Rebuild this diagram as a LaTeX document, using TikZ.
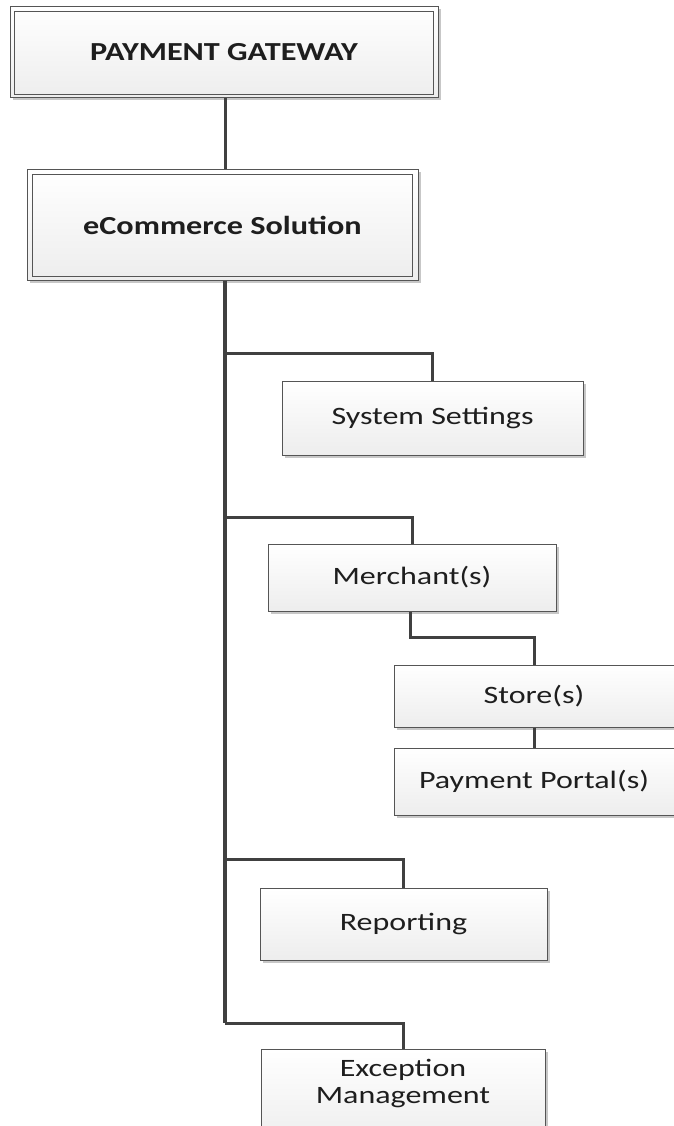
\documentclass[tikz,border=0pt]{standalone}
\usepackage{fontspec}
\usepackage{graphicx}
\setmainfont{Carlito}
\usetikzlibrary{shadows,calc}
\definecolor{edge}{HTML}{555555}
\definecolor{conncol}{HTML}{404040}
\definecolor{txt}{HTML}{1E1E1E}
\newcommand{\wide}[1]{\scalebox{1.28}[1]{#1}}
\newcommand{\widebf}[1]{\scalebox{1.24}[1]{#1}}
\tikzset{
  box/.style={draw=edge, line width=1pt, top color=white, bottom color=gray!14,
    drop shadow={shadow xshift=2.5pt, shadow yshift=-2.5pt, fill=black, opacity=.22},
    inner sep=0pt, text=txt, font=\fontsize{25}{27}\selectfont, align=center},
  bigbox/.style={box, font=\fontsize{26}{30}\selectfont\bfseries},
  innerline/.style={draw=edge, line width=1pt},
  conn/.style={draw=conncol, line width=3pt},
  trunk/.style={draw=conncol, line width=3.6pt}
}
\begin{document}
\begin{tikzpicture}[x=1pt,y=-1pt]
\useasboundingbox (0,0) rectangle (673,1126);
\coordinate (t1) at (225,353);
\coordinate (t2) at (225,517);
\coordinate (t3) at (225,859);
\coordinate (t4) at (225,1023);
% nodes
\node[bigbox, minimum width=428pt, minimum height=91pt] (pg) at (224,52.5) {\widebf{PAYMENT GATEWAY}};
\draw[innerline] ([shift={(5pt,-5pt)}]pg.north west) rectangle ([shift={(-5pt,4pt)}]pg.south east);
\node[bigbox, minimum width=391pt, minimum height=110pt] (ec) at (222.5,225) {\widebf{eCommerce Solution}};
\draw[innerline] ([shift={(6pt,-5pt)}]ec.north west) rectangle ([shift={(-6pt,4pt)}]ec.south east);
\node[box, minimum width=301pt, minimum height=74pt] (ss) at (432.5,418) {\wide{System Settings}};
\node[box, minimum width=288pt, minimum height=67pt] (mer) at (412,577.5) {\wide{Merchant(s)}};
\node[box, minimum width=280pt, minimum height=62pt] (st) at (534,696) {\wide{Store(s)}};
\node[box, minimum width=280pt, minimum height=67pt] (pp) at (534,781.5) {\wide{Payment Portal(s)}};
\node[box, minimum width=287pt, minimum height=72pt] (rep) at (403.5,924) {\wide{Reporting}};
\node[box, minimum width=284pt, anchor=north, text height=54pt, text depth=40pt] (exc) at (403,1049) {\wide{Exception}\\\wide{Management}};
% connectors
\draw[conn] (pg.south -| t1) -- (ec.north -| t1);
\draw[trunk] (ec.south -| t1) -- (t4);
\draw[conn] (t1) -| (ss.north);
\draw[conn] (t2) -| (mer.north);
\draw[conn] (t3) -| (rep.north);
\draw[conn] (t4) -| (exc.north);
\draw[conn] (mer.south -| 410,0) -- (410,637) -| (st.north);
\draw[conn] (st.south) -- (pp.north);
\end{tikzpicture}
\end{document}
